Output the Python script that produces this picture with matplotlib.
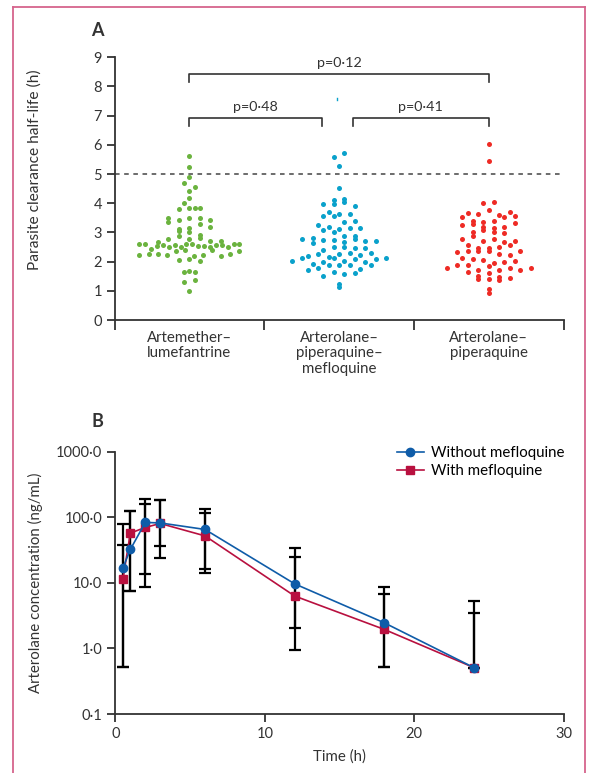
import matplotlib
matplotlib.use("Agg")
import matplotlib.pyplot as plt
import numpy as np
from matplotlib.lines import Line2D

plt.rcParams['font.family'] = ['Lato', 'DejaVu Sans']

# ---------------- Panel A data ----------------
groups = ["Artemether–\nlumefantrine",
          "Arterolane–\npiperaquine–\nmefloquine",
          "Arterolane–\npiperaquine"]
group_colors = ["#6bb33f", "#0aa1cb", "#ee2b25"]

al_halflife = [2.60, 2.60, 2.68, 2.43, 2.54, 2.79, 2.57, 2.23, 2.51, 2.26,
               4.01, 3.80, 3.35, 2.87, 2.57, 2.25, 2.04, 1.66,
               3.48, 3.12, 2.49, 2.23, 2.78, 4.70, 4.43, 3.85, 1.30,
               3.41, 3.16, 2.82, 2.59, 2.36, 2.09,
               5.62, 5.24, 4.90, 4.19, 1.69, 1.01,
               3.51, 3.28, 3.05, 2.59, 2.39, 2.20,
               4.57, 3.83, 1.38,
               3.51, 3.00, 2.55, 2.23, 2.02, 1.65,
               3.41, 3.17, 2.91, 2.72, 2.55, 2.39, 2.20, 3.83,
               2.49, 2.27, 2.56, 2.35, 2.57, 2.72, 2.51, 2.60, 2.59]

apm_halflife = [2.19, 2.79, 2.26, 2.03,
                3.70, 3.07, 2.82, 2.63, 2.40, 2.14, 1.92, 1.71,
                3.96, 3.55, 3.24, 3.01, 2.75, 2.50, 2.17, 1.97, 1.77, 1.52,
                4.10, 5.57, 3.55, 3.17, 2.73, 2.51, 2.12, 1.87, 1.63, 1.12,
                5.28, 4.51, 3.96,
                5.73, 3.63, 3.36, 3.13, 2.67, 2.47, 2.25, 2.03, 1.87, 1.57, 1.22,
                4.05, 3.63, 3.40, 3.14, 2.76, 2.30, 2.08, 1.88, 1.60,
                4.13, 3.90, 3.14, 2.89, 2.69, 2.48, 2.23, 1.97, 1.74,
                2.89, 2.69, 2.31, 2.10, 1.88, 2.12]

ap_halflife = [3.67, 2.32, 1.77,
               3.64, 3.24, 3.00, 2.76, 2.56, 2.35, 2.11, 1.87, 1.63, 1.39,
               3.76, 3.54, 3.28, 3.07, 2.87, 2.37, 2.09, 1.90, 1.71, 1.51,
               4.00, 3.61, 3.39, 3.19, 2.69, 2.46, 2.07, 1.86, 1.61, 1.40, 0.94,
               6.03, 5.45,
               4.03, 3.37, 3.15, 2.79, 2.37, 1.95, 1.71, 1.47, 1.05,
               3.69, 3.39, 3.19, 3.00, 2.67, 2.46, 2.26, 1.99, 1.79, 1.38,
               3.53, 3.31, 2.97, 2.71, 2.49, 2.23, 2.02, 1.70, 1.44,
               3.56, 2.57, 2.36, 1.78]

threshold_h = 5
pvalue_labels = ["p=0·48", "p=0·41", "p=0·12"]

# ---------------- Panel B data ----------------
time_h = [0.5, 1, 2, 3, 6, 12, 18, 24]
conc_without = [16.8, 32.3, 83.4, 82.0, 65.2, 9.66, 2.46, 0.51]
conc_with = [11.3, 57.3, 70.0, 80.4, 52.0, 6.3, 1.95, 0.51]
without_low = [0.52, 7.5, 13.6, 36.3, 16.3, 2.07, 0.52, 0.51]
without_high = [79.0, 125.0, 191.0, 186.0, 134.0, 33.8, 8.7, 5.3]
with_low = [0.52, 7.5, 8.5, 24.1, 14.1, 0.94, 0.52, 0.51]
with_high = [37.6, 125.0, 157.0, 182.0, 118.0, 24.6, 6.8, 3.5]
b_yticks = [0.1, 1, 10, 100, 1000]
b_yticklabels = ["0·1", "1·0", "10·0", "100·0", "1000·0"]
b_xticks = [0, 10, 20, 30]

dark = "#333333"
blue_line = "#0f5ca8"
red_line = "#b8103f"

W, H = 590, 773
fig = plt.figure(figsize=(W / 100, H / 100), dpi=100)


def fx(px):
    return px / W


def fy(py):
    return 1 - py / H


def binned_offsets(values, px_per_x, px_per_y, bin_px=7.0, step_px=10.5, max_px=100.0):
    """Prism-style scatter: values are binned into rows, points in a row are spread evenly."""
    vals = np.asarray(values, dtype=float)
    bins = np.floor(vals * px_per_y / bin_px).astype(int)
    offs = np.zeros(len(vals))
    for b in np.unique(bins):
        idx = np.where(bins == b)[0]
        n = len(idx)
        if n == 1:
            continue
        s = min(step_px, max_px / (n - 1))
        offs[idx] = (np.arange(n) - (n - 1) / 2.0) * s
    return offs / px_per_x


# ---------- Panel A ----------
A_left, A_right, A_bottom, A_top = 114.6, 563.5, 320.0, 57.3
axA = fig.add_axes([fx(A_left), fy(A_bottom), fx(A_right) - fx(A_left), fy(A_top) - fy(A_bottom)])
axA.set_xlim(-0.5, 2.5)
axA.set_ylim(0, 9)
px_per_x = (A_right - A_left) / 3.0
px_per_y = (A_bottom - A_top) / 9.0
for gi, (vals, col) in enumerate(zip([al_halflife, apm_halflife, ap_halflife], group_colors)):
    offs = binned_offsets(vals, px_per_x, px_per_y)
    axA.scatter(gi + offs, vals, s=13, color=col, linewidths=0, zorder=3, clip_on=False)

axA.set_yticks(range(0, 10))
axA.set_xticks([0, 1, 2])
axA.set_xticklabels(groups, fontsize=10.8, color=dark, linespacing=1.12)
axA.set_xticks([-0.5, 0.5, 1.5, 2.5], minor=True)
axA.tick_params(axis='x', which='major', length=0, pad=8)
axA.tick_params(axis='x', which='minor', length=7, width=1.3, color=dark, direction='out')
axA.tick_params(axis='y', length=6, width=1.3, color=dark, labelsize=10.5, labelcolor=dark, pad=3)
for s in ["top", "right"]:
    axA.spines[s].set_visible(False)
for s in ["left", "bottom"]:
    axA.spines[s].set_linewidth(1.3)
    axA.spines[s].set_color(dark)
axA.axhline(threshold_h, color="#444444", lw=1.1, ls=(0, (3, 3)), zorder=1)


def bracket(x0, x1, ytop, ydrop, label):
    axA.plot([x0, x0, x1, x1], [ydrop, ytop, ytop, ydrop], color=dark, lw=1.2, clip_on=False)
    axA.text((x0 + x1) / 2, ytop + 0.17, label, ha="center", va="bottom", fontsize=10.3, color=dark)


bracket(0, 0.886, 6.91, 6.63, pvalue_labels[0])
bracket(1.092, 2, 6.91, 6.63, pvalue_labels[1])
bracket(0, 2, 8.43, 8.14, pvalue_labels[2])
axA.plot([0.987, 0.987], [7.52, 7.62], color=group_colors[1], lw=1)

fig.text(fx(35), fy(170), "Parasite clearance half-life (h)", rotation=90,
         ha="center", va="center", fontsize=11.2, color=dark)
fig.text(fx(97), fy(31), "A", ha="center", va="center", fontsize=13, fontweight="bold", color=dark)

# ---------- Panel B ----------
axB = fig.add_axes([fx(115.4), fy(714), fx(563.5) - fx(115.4), fy(451.7) - fy(714)])
axB.set_yscale("log")
yerr_wo = [[c - l for c, l in zip(conc_without, without_low)],
           [h - c for c, h in zip(conc_without, without_high)]]
yerr_w = [[c - l for c, l in zip(conc_with, with_low)],
          [h - c for c, h in zip(conc_with, with_high)]]
axB.errorbar(time_h, conc_without, yerr=yerr_wo, fmt="none", ecolor="black",
             elinewidth=1.6, capsize=4.3, capthick=1.6, zorder=2)
axB.errorbar(time_h, conc_with, yerr=yerr_w, fmt="none", ecolor="black",
             elinewidth=1.6, capsize=4.3, capthick=1.6, zorder=2)
axB.plot(time_h, conc_with, color=red_line, lw=1.2, marker="s", ms=5.2,
         mfc=red_line, mec=red_line, zorder=3)
axB.plot(time_h, conc_without, color=blue_line, lw=1.2, marker="o", ms=6,
         mfc=blue_line, mec=blue_line, zorder=4)
axB.set_xlim(0, 30)
axB.set_ylim(0.1, 1000)
axB.set_yticks(b_yticks)
axB.set_yticklabels(b_yticklabels)
axB.yaxis.set_minor_locator(matplotlib.ticker.NullLocator())
axB.set_xticks(b_xticks)
axB.tick_params(axis='both', length=6, width=1.3, color=dark, labelsize=10.5, labelcolor=dark)
for s in ["top", "right"]:
    axB.spines[s].set_visible(False)
for s in ["left", "bottom"]:
    axB.spines[s].set_linewidth(1.3)
    axB.spines[s].set_color(dark)
axB.set_xlabel("Time (h)", fontsize=10.8, color=dark, labelpad=6)

handles = [Line2D([], [], color=blue_line, lw=1.2, marker="o", ms=6),
           Line2D([], [], color=red_line, lw=1.2, marker="s", ms=5.2)]
axB.legend(handles, ["Without mefloquine", "With mefloquine"], loc="upper left",
           bbox_to_anchor=(0.615, 1.045), frameon=False, fontsize=10.8,
           handlelength=1.8, handletextpad=0.45, labelspacing=0.3, borderaxespad=0)

fig.text(fx(35), fy(583), "Arterolane concentration (ng/mL)", rotation=90,
         ha="center", va="center", fontsize=10.8, color=dark)
fig.text(fx(97), fy(421), "B", ha="center", va="center", fontsize=13, fontweight="bold", color=dark)

# pink frame
frame_color = "#d6648c"
fig.add_artist(Line2D([fx(12.8), fx(12.8)], [0, fy(6.5)], color=frame_color, lw=1.3))
fig.add_artist(Line2D([fx(12.8), fx(585)], [fy(6.5), fy(6.5)], color=frame_color, lw=1.3))
fig.add_artist(Line2D([fx(585), fx(585)], [0, fy(6.5)], color=frame_color, lw=1.3))

fig.savefig("out.png", dpi=100)
